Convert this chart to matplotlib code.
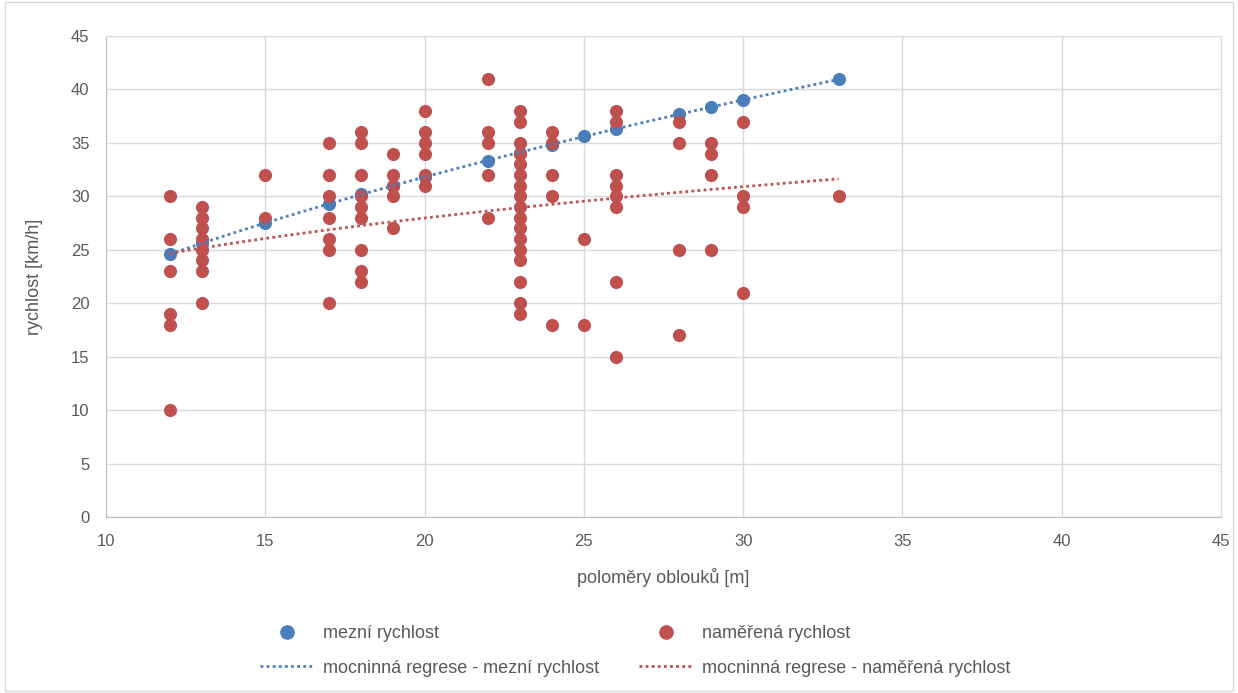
import numpy as np
import matplotlib.pyplot as plt
from matplotlib.lines import Line2D
from matplotlib.patches import Rectangle

plt.rcParams['font.family'] = ['Liberation Sans', 'DejaVu Sans']

# mezní rychlost (one point per radius)
limit_r = [12, 13, 15, 17, 18, 19, 20, 22, 23, 24, 25, 26, 28, 29, 30, 33]
limit_v = [24.6, 25.6, 27.5, 29.3, 30.2, 31.0, 31.8, 33.3, 34.1, 34.8, 35.6, 36.3, 37.7, 38.4, 39.0, 41.0]

# naměřená rychlost, grouped by radius
measured = {
    12: [30, 26, 23, 19, 18, 10],
    13: [29, 28, 27, 26, 25, 24, 23, 20],
    15: [32, 28],
    17: [35, 32, 30, 28, 26, 25, 20],
    18: [36, 35, 32, 30, 29, 28, 25, 23, 22],
    19: [34, 32, 31, 30, 27],
    20: [38, 36, 35, 34, 32, 31],
    22: [41, 36, 35, 32, 28],
    23: [38, 37, 35, 34, 33, 32, 31, 30, 29, 28, 27, 26, 25, 24, 22, 20, 19],
    24: [36, 35, 32, 30, 18],
    25: [26, 18],
    26: [38, 37, 32, 31, 30, 29, 22, 15],
    28: [37, 35, 25, 17],
    29: [35, 34, 32, 25],
    30: [37, 30, 29, 21],
    33: [30],
}
meas_r = [r for r, vs in measured.items() for _ in vs]
meas_v = [v for vs in measured.values() for v in vs]

x_label = "poloměry oblouků [m]"
y_label = "rychlost [km/h]"
legend_labels = ["mezní rychlost", "naměřená rychlost",
                 "mocninná regrese - mezní rychlost", "mocninná regrese - naměřená rychlost"]

blue = "#4a7ebb"
red = "#c0504d"
grid_c = "#d9d9d9"
text_c = "#595959"
dots = (0, (1, 1.2))


def power_fit(x, y):
    # Excel-style power trendline: fit in log-log space
    b, ln_a = np.polyfit(np.log(x), np.log(y), 1)
    xs = np.linspace(min(x), max(x), 100)
    return xs, np.exp(ln_a) * xs ** b


fig = plt.figure(figsize=(12.38, 6.93), dpi=100)
ax = fig.add_axes([106 / 1238, 1 - 517 / 693, (1221 - 106) / 1238, (517 - 36) / 693])

ax.scatter(limit_r, limit_v, s=90, color=blue, zorder=3, linewidths=0)
ax.scatter(meas_r, meas_v, s=90, color=red, zorder=4, linewidths=0)

xs, ys = power_fit(limit_r, limit_v)
ax.plot(xs, ys, color=blue, lw=2, linestyle=dots, zorder=5)
xs, ys = power_fit(meas_r, meas_v)
ax.plot(xs, ys, color=red, lw=2, linestyle=dots, zorder=5)

ax.set_xlim(10, 45)
ax.set_ylim(0, 45)
ax.set_xticks(np.arange(10, 46, 5))
ax.set_yticks(np.arange(0, 46, 5))
ax.grid(True, color=grid_c, lw=1)
ax.set_axisbelow(True)
for s in ax.spines.values():
    s.set_color(grid_c)
ax.spines['left'].set_color("#bfbfbf")
ax.spines['bottom'].set_color("#bfbfbf")
ax.tick_params(length=0, labelsize=12, labelcolor=text_c, pad=12)
ax.set_xlabel(x_label, fontsize=13, color=text_c, labelpad=14)
ax.set_ylabel(y_label, fontsize=13, color=text_c, labelpad=20)

handles = [
    Line2D([], [], linestyle='none', marker='o', markersize=9.5, color=blue),
    Line2D([], [], color=blue, lw=2, linestyle=dots),
    Line2D([], [], linestyle='none', marker='o', markersize=9.5, color=red),
    Line2D([], [], color=red, lw=2, linestyle=dots),
]
labels = [legend_labels[0], legend_labels[2], legend_labels[1], legend_labels[3]]
leg = fig.legend(handles, labels, loc='center', bbox_to_anchor=(0.513, 1 - 651 / 693),
                 ncol=2, frameon=False, fontsize=13, handlelength=3.0,
                 columnspacing=2.2, labelspacing=0.95, handletextpad=0.5)
for t in leg.get_texts():
    t.set_color(text_c)

fig.patches.append(Rectangle((0.004, 0.003), 0.992, 0.994, transform=fig.transFigure,
                             fill=False, edgecolor=grid_c, lw=1))

fig.savefig("out.png", dpi=100, facecolor="white")
